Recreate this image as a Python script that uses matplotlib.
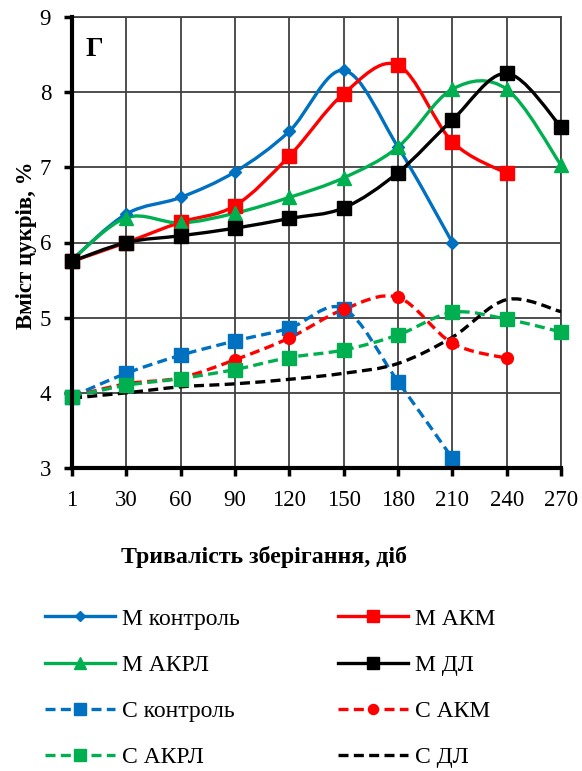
import matplotlib
matplotlib.use('Agg')
import matplotlib.pyplot as plt
from matplotlib.path import Path
from matplotlib.patches import PathPatch
from matplotlib.lines import Line2D
import numpy as np

plt.rcParams['font.family'] = ['Liberation Serif', 'DejaVu Serif']

days = ['1', '30', '60', '90', '120', '150', '180', '210', '240', '270']
m_control = [5.77, 6.38, 6.60, 6.94, 7.48, 8.29, 7.27, 6.00]
m_akm = [5.75, 6.00, 6.27, 6.49, 7.15, 7.98, 8.36, 7.34, 6.92]
m_akrl = [5.77, 6.33, 6.26, 6.39, 6.60, 6.86, 7.27, 8.04, 8.04, 7.03]
m_dl = [5.75, 6.00, 6.09, 6.19, 6.32, 6.46, 6.93, 7.63, 8.25, 7.54]
s_control = [3.95, 4.26, 4.50, 4.69, 4.86, 5.12, 4.15, 3.13]
s_akm = [3.95, 4.12, 4.20, 4.44, 4.73, 5.11, 5.27, 4.66, 4.46]
s_akrl = [3.95, 4.10, 4.19, 4.31, 4.47, 4.57, 4.77, 5.07, 4.98, 4.81]
s_dl = [3.93, 4.00, 4.08, 4.12, 4.18, 4.26, 4.39, 4.74, 5.24, 5.08]

labels = ['М контроль', 'М АКМ', 'М АКРЛ', 'М ДЛ',
          'С контроль', 'С АКМ', 'С АКРЛ', 'С ДЛ']

BLUE, RED, GREEN, BLACK = '#0070C0', '#FF0000', '#00B050', '#000000'

series = [
    (m_control, BLUE, '-', 'D', 6.5),
    (m_akm, RED, '-', 's', 9.5),
    (m_akrl, GREEN, '-', '^', 10),
    (m_dl, BLACK, '-', 's', 10),
    (s_control, BLUE, '--', 's', 10),
    (s_akm, RED, '--', 'o', 8.5),
    (s_akrl, GREEN, '--', 's', 10),
    (s_dl, BLACK, '--', None, 0),
]


def smooth_path(xs, ys):
    pts = np.column_stack([xs, ys]).astype(float)
    n = len(pts)
    verts = [pts[0]]
    codes = [Path.MOVETO]
    for i in range(n - 1):
        p0 = pts[i - 1] if i > 0 else pts[i]
        p1 = pts[i]
        p2 = pts[i + 1]
        p3 = pts[i + 2] if i + 2 < n else pts[i + 1]
        c1 = p1 + (p2 - p0) / 6.0
        c2 = p2 - (p3 - p1) / 6.0
        verts += [c1, c2, p2]
        codes += [Path.CURVE4] * 3
    return Path(verts, codes)


W, H = 582, 771
fig = plt.figure(figsize=(W / 100, H / 100), dpi=100)
ax = fig.add_axes([72 / W, 1 - 468 / H, (561 - 72) / W, (468 - 17) / H])

ax.set_xlim(0, len(days) - 1)
ax.set_ylim(3, 9)
ax.set_xticks(range(len(days)))
ax.set_xticklabels(days)
ax.set_yticks(range(3, 10))
ax.grid(True, color='#404040', lw=1.3)
ax.set_axisbelow(True)

dash = (0, (3, 1.6))
handles = []
for vals, col, ls, mk, ms in series:
    xs = np.arange(len(vals))
    pp = PathPatch(smooth_path(xs, vals), fill=False, edgecolor=col, lw=2.4,
                   linestyle=(dash if ls == '--' else '-'), capstyle='butt', zorder=3)
    ax.add_patch(pp)
    if mk:
        ax.plot(xs, vals, linestyle='none', marker=mk, ms=ms, color=col,
                mec=col, zorder=4, clip_on=False)
    handles.append(Line2D([], [], color=col, lw=2.4,
                          linestyle=(dash if ls == '--' else '-'),
                          marker=mk if mk else None, ms=ms * 0.85))

for side in ['top', 'right']:
    ax.spines[side].set_color('#404040')
    ax.spines[side].set_linewidth(1.3)
for side in ['left', 'bottom']:
    ax.spines[side].set_color('black')
    ax.spines[side].set_linewidth(3)
    ax.spines[side].set_zorder(5)

ax.tick_params(axis='both', direction='out', length=6, width=2.5, colors='black',
               labelsize=16.5)
ax.tick_params(axis='y', pad=9)
ax.tick_params(axis='x', pad=10)

fig.text(27 / W, 1 - 245 / H, 'Вміст цукрів, %', fontsize=16.5, fontweight='bold',
         rotation=90, ha='center', va='center')
fig.text(264 / W, 1 - 563 / H, 'Тривалість зберігання, діб', fontsize=17.2,
         fontweight='bold', ha='center', va='baseline')

ax.text(0.027, 0.955, 'Г', transform=ax.transAxes, fontsize=20, fontweight='bold',
        va='top', ha='left')

leg_kw = dict(loc='upper left', frameon=False, fontsize=17, handlelength=2.95,
              handletextpad=0.3, labelspacing=1.05, borderpad=0, borderaxespad=0)
col1 = [0, 2, 4, 6]
col2 = [1, 3, 5, 7]
leg1 = fig.legend([handles[i] for i in col1], [labels[i] for i in col1],
                  bbox_to_anchor=(45 / W, 1 - 608 / H), **leg_kw)
leg2 = fig.legend([handles[i] for i in col2], [labels[i] for i in col2],
                  bbox_to_anchor=(338 / W, 1 - 608 / H), **leg_kw)

fig.savefig('out.png', dpi=100)
